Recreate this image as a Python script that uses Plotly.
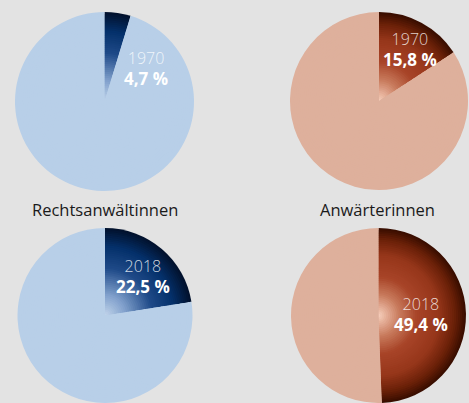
import plotly.graph_objects as go

# shares of women (in %)
groups = ["Rechtsanwältinnen", "Anwärterinnen"]
years = ["1970", "2018"]
shares_lawyers = [4.7, 22.5]
shares_trainees = [15.8, 49.4]

W, H = 469, 403
bg = "#e3e3e3"
font = "Open Sans"

# colour stops for the radial gradient of the highlighted slice (t = 0 centre, 1 edge)
blue_stops = [(0.0, "#c4d6ec"), (0.25, "#7f9fcb"), (0.55, "#1f4a88"), (0.8, "#04306a"), (1.0, "#02122e")]
brown_stops = [(0.0, "#f8d2c0"), (0.25, "#c87a5c"), (0.45, "#a84428"), (0.7, "#96361a"),
               (0.88, "#6a2008"), (1.0, "#3a0e00")]
blue_base = "#b8cfe8"
brown_base = "#deb09c"


def hex2rgb(h):
    h = h.lstrip("#")
    return [int(h[i:i + 2], 16) for i in (0, 2, 4)]


def grad(stops, t):
    for (t0, c0), (t1, c1) in zip(stops[:-1], stops[1:]):
        if t <= t1:
            f = (t - t0) / (t1 - t0) if t1 > t0 else 0
            a, b = hex2rgb(c0), hex2rgb(c1)
            return "rgb(%d,%d,%d)" % tuple(round(a[i] + (b[i] - a[i]) * f) for i in range(3))
    return stops[-1][1]


fig = go.Figure()


def add_pie(share, cx, cy, r, stops, base, n=45):
    # stack shrinking pies on the same centre to fake the radial gradient
    for k in range(n):
        rr = r * (1 - k / n)
        t = 1 - k / n
        fig.add_trace(go.Pie(
            values=[share, 100 - share],
            sort=False,
            direction="clockwise",
            rotation=0,
            marker=dict(colors=[grad(stops, t), base], line=dict(width=0)),
            textinfo="none",
            hoverinfo="skip",
            showlegend=False,
            domain=dict(x=[(cx - rr) / W, (cx + rr) / W],
                        y=[(H - cy - rr) / H, (H - cy + rr) / H]),
        ))


add_pie(shares_lawyers[0], 104.5, 101.5, 89.5, blue_stops, blue_base)
add_pie(shares_trainees[0], 379, 101, 89, brown_stops, brown_base)
add_pie(shares_lawyers[1], 105, 315.5, 87.5, blue_stops, blue_base)
add_pie(shares_trainees[1], 378.5, 315.5, 87.5, brown_stops, brown_base)


def fmt(v):
    return ("%.1f" % v).replace(".", ",") + " %"


# centre of the two-line label (year / share) inside each highlighted slice
labels = [
    (146, 69, years[0], shares_lawyers[0]),
    (410, 49, years[0], shares_trainees[0]),
    (143, 276, years[1], shares_lawyers[1]),
    (421, 314, years[1], shares_trainees[1]),
]
annos = []
for x, y, yr, v in labels:
    txt = ("<span style='color:rgba(255,255,255,0.8);font-weight:300'>%s</span><br>"
           "<span style='font-weight:bold;font-size:17px'>%s</span>" % (yr, fmt(v)))
    annos.append(dict(x=x / W, y=1 - y / H, xref="paper", yref="paper", text=txt, showarrow=False,
                      xanchor="center", yanchor="middle", align="center",
                      font=dict(family=font, size=16, color="white")))

annos.append(dict(x=105 / W, y=1 - 209 / H, xref="paper", yref="paper", text=groups[0], showarrow=False,
                  xanchor="center", yanchor="middle",
                  font=dict(family=font, size=16.5, color="#1a1a1a")))
annos.append(dict(x=377 / W, y=1 - 209 / H, xref="paper", yref="paper", text=groups[1], showarrow=False,
                  xanchor="center", yanchor="middle",
                  font=dict(family=font, size=16.5, color="#1a1a1a")))

fig.update_layout(
    width=W, height=H,
    margin=dict(l=0, r=0, t=0, b=0),
    paper_bgcolor=bg, plot_bgcolor=bg,
    annotations=annos,
)

fig.write_html("out.html", config={"displayModeBar": False},
               post_script="document.body.style.margin='0';")
